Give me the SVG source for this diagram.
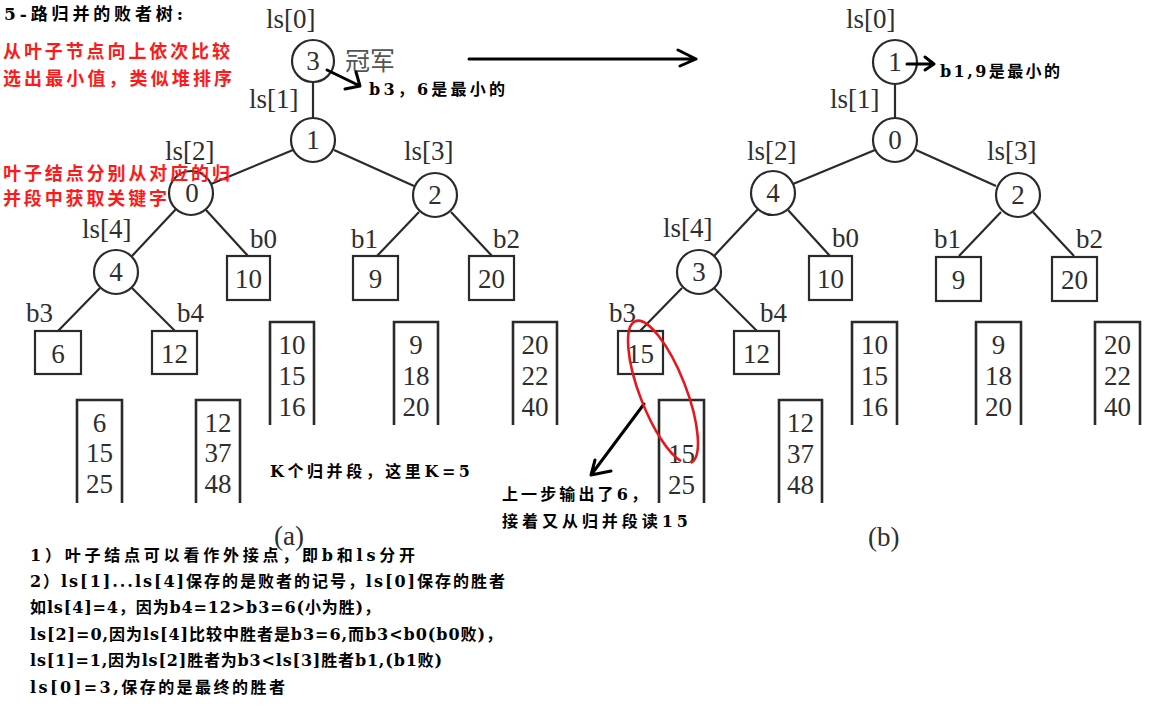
<svg xmlns="http://www.w3.org/2000/svg" width="1160" height="709" viewBox="0 0 1160 709">
<defs>
<style>
.lbl{font-family:"Liberation Serif","Times New Roman",serif;font-size:27px;fill:#2e2e2e}
.num{font-family:"Liberation Serif","Times New Roman",serif;font-size:27px;fill:#2e2e2e;text-anchor:middle}
.nd circle{fill:#fff;stroke:#2a2a2a;stroke-width:2.2}
.nd rect{fill:#fff;stroke:#2a2a2a;stroke-width:2.2}
.seg path{fill:none;stroke:#2a2a2a;stroke-width:2.6}
.edge line{stroke:#2a2a2a;stroke-width:2.2}
.cn{font-family:"DejaVu Serif","Noto Sans CJK SC",serif;font-weight:bold;font-size:16px;fill:#000}
.red{font-family:"DejaVu Serif","Noto Sans CJK SC",serif;font-weight:bold;font-size:18px;fill:#ff1a1a}
.arr{fill:none;stroke:#000;stroke-width:3;stroke-linecap:round;stroke-linejoin:round}
.champ{font-family:"Noto Sans CJK SC",sans-serif;font-size:25px;fill:#555}
</style>
</defs>
<rect width="1160" height="709" fill="#fff"/>

<!-- connectors -->
<g id="connectors" class="edge">
  <line x1="313" y1="82" x2="313" y2="118"/>
  <line x1="293" y1="150" x2="211" y2="184"/>
  <line x1="334" y1="150" x2="414" y2="186"/>
  <line x1="177" y1="208" x2="132" y2="256"/>
  <line x1="206" y1="210" x2="248" y2="256"/>
  <line x1="419" y1="212" x2="377" y2="256"/>
  <line x1="451" y1="212" x2="492" y2="256"/>
  <line x1="100" y1="288" x2="58" y2="331"/>
  <line x1="132" y1="288" x2="175" y2="331"/>

  <line x1="895" y1="84" x2="895" y2="118"/>
  <line x1="875" y1="150" x2="793" y2="184"/>
  <line x1="916" y1="150" x2="996" y2="186"/>
  <line x1="759" y1="208" x2="714" y2="256"/>
  <line x1="788" y1="210" x2="830" y2="256"/>
  <line x1="1001" y1="212" x2="959" y2="256"/>
  <line x1="1033" y1="212" x2="1074" y2="256"/>
  <line x1="682" y1="288" x2="640" y2="331"/>
  <line x1="714" y1="288" x2="757" y2="331"/>
</g>

<!-- left tree (a) -->
<g id="a-ls0" class="nd"><circle cx="313" cy="61" r="21"/><text class="num" x="313" y="70">3</text><text class="lbl" x="266" y="28">ls[0]</text></g>
<g id="a-ls1" class="nd"><circle cx="313" cy="140" r="22"/><text class="num" x="313" y="149">1</text><text class="lbl" x="249" y="108">ls[1]</text></g>
<g id="a-ls2" class="nd"><circle cx="191" cy="193" r="22"/><text class="num" x="192" y="202">0</text><text class="lbl" x="165" y="160">ls[2]</text></g>
<g id="a-ls3" class="nd"><circle cx="435" cy="195" r="22"/><text class="num" x="435" y="204">2</text><text class="lbl" x="404" y="160">ls[3]</text></g>
<g id="a-ls4" class="nd"><circle cx="116" cy="272" r="22"/><text class="num" x="116" y="281">4</text><text class="lbl" x="82" y="238">ls[4]</text></g>
<g id="a-b0" class="nd"><rect x="227" y="256" width="43" height="44"/><text class="num" x="248.5" y="288">10</text><text class="lbl" x="250" y="248">b0</text></g>
<g id="a-b1" class="nd"><rect x="353" y="256" width="45" height="44"/><text class="num" x="375.5" y="288">9</text><text class="lbl" x="351" y="248">b1</text></g>
<g id="a-b2" class="nd"><rect x="469" y="256" width="45" height="44"/><text class="num" x="491.5" y="288">20</text><text class="lbl" x="493" y="248">b2</text></g>
<g id="a-b3" class="nd"><rect x="35" y="331" width="46" height="43"/><text class="num" x="58" y="363">6</text><text class="lbl" x="26" y="322">b3</text></g>
<g id="a-b4" class="nd"><rect x="152" y="331" width="45" height="43"/><text class="num" x="174.5" y="363">12</text><text class="lbl" x="177" y="322">b4</text></g>
<text class="champ" x="345" y="70">冠军</text>

<!-- run segments (a) -->
<g id="a-seg0" class="seg"><path d="M270,425 V322 H314 V425"/><text class="num" x="292" y="354">10</text><text class="num" x="292" y="385">15</text><text class="num" x="292" y="416">16</text></g>
<g id="a-seg1" class="seg"><path d="M394,425 V322 H438 V425"/><text class="num" x="416" y="354">9</text><text class="num" x="416" y="385">18</text><text class="num" x="416" y="416">20</text></g>
<g id="a-seg2" class="seg"><path d="M513,425 V322 H557 V425"/><text class="num" x="535" y="354">20</text><text class="num" x="535" y="385">22</text><text class="num" x="535" y="416">40</text></g>
<g id="a-seg3" class="seg"><path d="M77,503 V400 H122 V503"/><text class="num" x="99.5" y="432">6</text><text class="num" x="99.5" y="462">15</text><text class="num" x="99.5" y="493">25</text></g>
<g id="a-seg4" class="seg"><path d="M196,503 V400 H240 V503"/><text class="num" x="218" y="432">12</text><text class="num" x="218" y="462">37</text><text class="num" x="218" y="493">48</text></g>

<!-- right tree (b) -->
<g id="b-ls0" class="nd"><circle cx="895" cy="62" r="22"/><text class="num" x="895" y="71">1</text><text class="lbl" x="846" y="28">ls[0]</text></g>
<g id="b-ls1" class="nd"><circle cx="895" cy="140" r="22"/><text class="num" x="895" y="149">0</text><text class="lbl" x="830" y="108">ls[1]</text></g>
<g id="b-ls2" class="nd"><circle cx="773" cy="193" r="22"/><text class="num" x="773" y="202">4</text><text class="lbl" x="747" y="160">ls[2]</text></g>
<g id="b-ls3" class="nd"><circle cx="1018" cy="195" r="22"/><text class="num" x="1018" y="204">2</text><text class="lbl" x="987" y="160">ls[3]</text></g>
<g id="b-ls4" class="nd"><circle cx="699" cy="272" r="22"/><text class="num" x="699" y="281">3</text><text class="lbl" x="663" y="237">ls[4]</text></g>
<g id="b-b0" class="nd"><rect x="809" y="256" width="43" height="44"/><text class="num" x="830.5" y="288">10</text><text class="lbl" x="832" y="247">b0</text></g>
<g id="b-b1" class="nd"><rect x="936" y="257" width="45" height="44"/><text class="num" x="958.5" y="289">9</text><text class="lbl" x="934" y="248">b1</text></g>
<g id="b-b2" class="nd"><rect x="1052" y="257" width="45" height="44"/><text class="num" x="1074.5" y="289">20</text><text class="lbl" x="1076" y="248">b2</text></g>
<g id="b-b3" class="nd"><rect x="618" y="331" width="45" height="43"/><text class="num" x="640.5" y="363">15</text><text class="lbl" x="609" y="322">b3</text></g>
<g id="b-b4" class="nd"><rect x="734" y="331" width="45" height="43"/><text class="num" x="756.5" y="363">12</text><text class="lbl" x="760" y="322">b4</text></g>

<!-- run segments (b) -->
<g id="b-seg0" class="seg"><path d="M852,425 V322 H897 V425"/><text class="num" x="874.5" y="354">10</text><text class="num" x="874.5" y="385">15</text><text class="num" x="874.5" y="416">16</text></g>
<g id="b-seg1" class="seg"><path d="M976,425 V322 H1021 V425"/><text class="num" x="998.5" y="354">9</text><text class="num" x="998.5" y="385">18</text><text class="num" x="998.5" y="416">20</text></g>
<g id="b-seg2" class="seg"><path d="M1095,425 V322 H1140 V425"/><text class="num" x="1117.5" y="354">20</text><text class="num" x="1117.5" y="385">22</text><text class="num" x="1117.5" y="416">40</text></g>
<g id="b-seg3" class="seg"><path d="M659,503 V400 H704 V503"/><text class="num" x="681.5" y="463">15</text><text class="num" x="681.5" y="494">25</text></g>
<g id="b-seg4" class="seg"><path d="M779,503 V400 H822 V503"/><text class="num" x="800.5" y="432">12</text><text class="num" x="800.5" y="463">37</text><text class="num" x="800.5" y="494">48</text></g>

<!-- captions -->
<text class="lbl" x="274" y="545">(a)</text>
<text class="lbl" x="868" y="546">(b)</text>

<!-- annotations -->
<g id="annotations">
  <text class="cn" x="4" y="20" style="font-size:17px" textLength="179" lengthAdjust="spacing">5-路归并的败者树:</text>
  <text class="red" x="3" y="58" textLength="227" lengthAdjust="spacing">从叶子节点向上依次比较</text>
  <text class="red" x="3" y="85" textLength="229" lengthAdjust="spacing">选出最小值，类似堆排序</text>
  <text class="red" x="3" y="180" textLength="227" lengthAdjust="spacing">叶子结点分别从对应的归</text>
  <text class="red" x="3" y="205" textLength="164" lengthAdjust="spacing">并段中获取关键字</text>

  <text class="cn" x="369" y="95" textLength="136" lengthAdjust="spacing">b3，6是最小的</text>
  <text class="cn" x="940" y="77" textLength="120" lengthAdjust="spacing">b1,9是最小的</text>
  <text class="cn" x="270" y="477" textLength="200" lengthAdjust="spacing">K个归并段，这里K=5</text>
  <text class="cn" x="502" y="500" textLength="145" lengthAdjust="spacing">上一步输出了6，</text>
  <text class="cn" x="502" y="527" textLength="186" lengthAdjust="spacing">接着又从归并段读15</text>

  <text class="cn" x="30" y="561" textLength="385" lengthAdjust="spacing">1）叶子结点可以看作外接点，即b和ls分开</text>
  <text class="cn" x="30" y="587" textLength="475" lengthAdjust="spacing">2）ls[1]...ls[4]保存的是败者的记号，ls[0]保存的胜者</text>
  <text class="cn" x="30" y="613" textLength="350" lengthAdjust="spacing">如ls[4]=4，因为b4=12&gt;b3=6(小为胜)，</text>
  <text class="cn" x="30" y="640" textLength="472" lengthAdjust="spacing">ls[2]=0,因为ls[4]比较中胜者是b3=6,而b3&lt;b0(b0败)，</text>
  <text class="cn" x="30" y="666" textLength="412" lengthAdjust="spacing">ls[1]=1,因为ls[2]胜者为b3&lt;ls[3]胜者b1,(b1败)</text>
  <text class="cn" x="30" y="693" textLength="255" lengthAdjust="spacing">ls[0]=3,保存的是最终的胜者</text>
</g>

<!-- hand-drawn arrows -->
<g id="arrows">
  <path class="arr" d="M327,70 L360,86 M345,89 L360,86 L356,72"/>
  <path class="arr" d="M469,59 L696,59 M678,50 L696,59 L680,66"/>
  <path class="arr" d="M907,64 L934,64 M925,57 L934,64 L925,70"/>
  <path class="arr" d="M644,404 L591,475 M595,460 L591,475 L611,471"/>
</g>

<!-- red highlight ellipse -->
<ellipse cx="663" cy="392" rx="76" ry="23" transform="rotate(68.7 663 392)" fill="none" stroke="#e8161b" stroke-width="2.6" stroke-dasharray="440 18" stroke-dashoffset="-10"/>
</svg>
